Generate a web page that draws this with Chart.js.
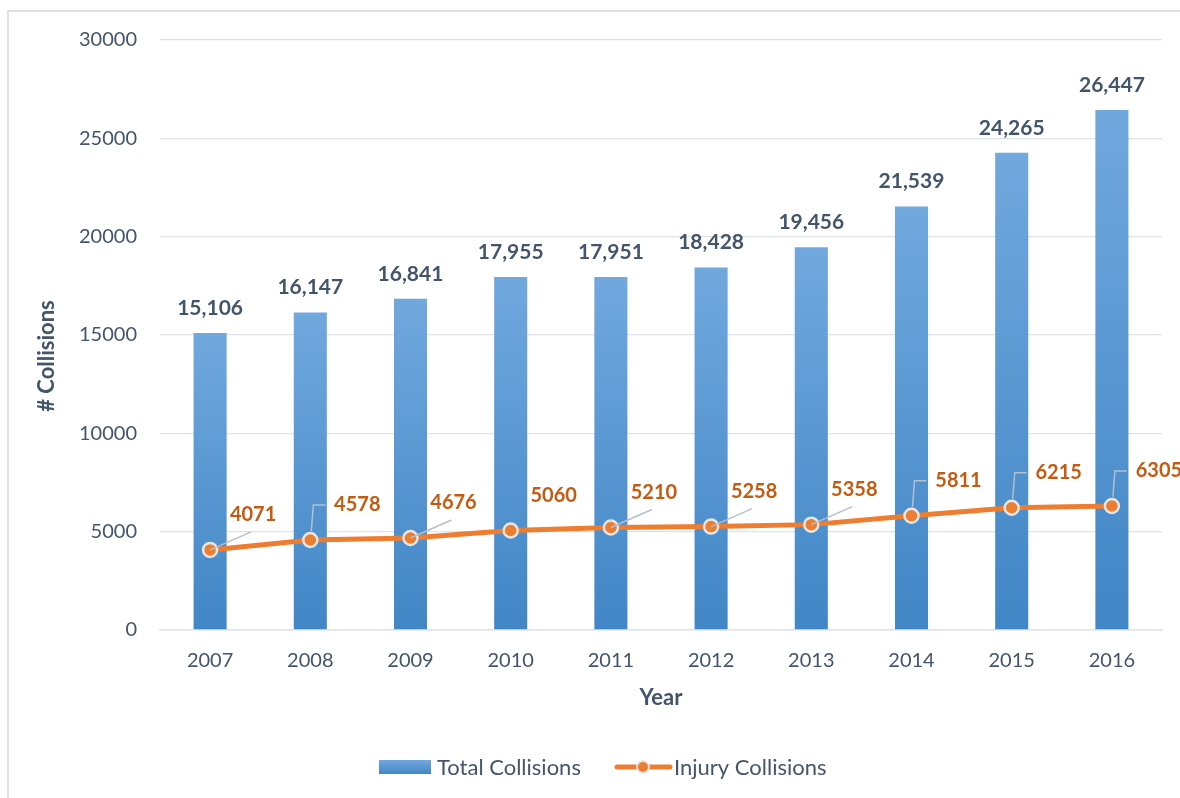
<!DOCTYPE html>
<html>
<head>
<meta charset="utf-8">
<script src="https://cdn.jsdelivr.net/npm/chart.js@4.4.1/dist/chart.umd.min.js"></script>
<style>
  html, body { margin: 0; padding: 0; background: #ffffff; }
  #wrap { position: relative; width: 1180px; height: 798px; }
</style>
</head>
<body>
<div id="wrap"><canvas id="chart"></canvas></div>
<script>
// Collisions per year
const years = ['2007', '2008', '2009', '2010', '2011', '2012', '2013', '2014', '2015', '2016'];
const totalCollisions = [15106, 16147, 16841, 17955, 17951, 18428, 19456, 21539, 24265, 26447];
const injuryCollisions = [4071, 4578, 4676, 5060, 5210, 5258, 5358, 5811, 6215, 6305];
const yAxisMax = 30000;
const yAxisStep = 5000;
const yAxisTitle = '# Collisions';

const FONT = 'Lato, "Open Sans", sans-serif';
const TEXT_COLOR = '#44546A';
const ORANGE = '#ED7D31';
const ORANGE_TEXT = '#C55A11';
const BAR_TOP = '#71a8de';
const BAR_BOTTOM = '#4186c6';
const GRID = '#dfe3e8';

// Leader style for each injury label: diagonal, elbow or none
const leaderStyles = ['diag', 'elbow', 'diag', 'none', 'diag', 'diag', 'diag', 'elbow', 'elbow', 'elbow'];

function barGradient(ctx) {
  const chart = ctx.chart;
  if (!chart.chartArea || ctx.type !== 'data') return BAR_BOTTOM;
  const y = chart.scales.y;
  const top = y.getPixelForValue(ctx.raw);
  const base = y.getPixelForValue(0);
  const g = chart.ctx.createLinearGradient(0, top, 0, base);
  g.addColorStop(0, BAR_TOP);
  g.addColorStop(1, BAR_BOTTOM);
  return g;
}

// Frame around the whole figure
const frame = {
  id: 'frame',
  beforeDraw(chart) {
    const c = chart.ctx;
    c.save();
    c.fillStyle = '#ffffff';
    c.fillRect(0, 0, chart.width, chart.height);
    c.strokeStyle = '#dde1e6';
    c.lineWidth = 2;
    c.strokeRect(8, 11, chart.width + 20, chart.height + 20);
    c.restore();
  }
};

// Vertical axis title, set a little below the plot's middle
const yTitle = {
  id: 'yTitle',
  afterDraw(chart) {
    const c = chart.ctx;
    const area = chart.chartArea;
    c.save();
    c.translate(47, (area.top + area.bottom) / 2 + 21);
    c.rotate(-Math.PI / 2);
    c.font = 'bold 22px ' + FONT;
    c.fillStyle = TEXT_COLOR;
    c.textAlign = 'center';
    c.textBaseline = 'middle';
    c.fillText(yAxisTitle, 0, 0);
    c.restore();
  }
};

// Value labels above bars and beside line points
const valueLabels = {
  id: 'valueLabels',
  afterDatasetsDraw(chart) {
    const c = chart.ctx;
    const bars = chart.getDatasetMeta(0).data;
    const barValues = chart.data.datasets[0].data;
    c.save();
    c.font = 'bold 21px ' + FONT;
    c.fillStyle = TEXT_COLOR;
    c.textAlign = 'center';
    c.textBaseline = 'middle';
    bars.forEach((bar, i) => {
      c.fillText(barValues[i].toLocaleString('en-US'), bar.x, bar.y - 25);
    });

    const pts = chart.getDatasetMeta(1).data;
    const lineValues = chart.data.datasets[1].data;
    c.strokeStyle = '#b4bfcd';
    c.lineWidth = 1.5;
    pts.forEach((pt, i) => {
      const style = leaderStyles[i];
      let lx = pt.x + 43;
      const ly = pt.y - 35;
      if (style === 'diag') {
        c.beginPath();
        c.moveTo(pt.x, pt.y);
        c.lineTo(pt.x + 41, pt.y - 18);
        c.stroke();
      } else if (style === 'elbow') {
        lx = pt.x + 47;
        c.beginPath();
        c.moveTo(pt.x + 1, pt.y - 9);
        c.lineTo(pt.x + 3, ly);
        c.lineTo(pt.x + 15, ly);
        c.stroke();
      }
      c.font = 'bold 20px ' + FONT;
      c.fillStyle = ORANGE_TEXT;
      c.fillText(String(lineValues[i]), lx, ly);
    });
    c.restore();
  }
};

// Legend drawn under the chart
const bottomLegend = {
  id: 'bottomLegend',
  afterDraw(chart) {
    const c = chart.ctx;
    const ds = chart.data.datasets;
    const cy = 767;
    c.save();
    c.font = '22px ' + FONT;
    c.textBaseline = 'middle';
    c.textAlign = 'left';
    // bar swatch
    let x = 379;
    const g = c.createLinearGradient(0, cy - 7, 0, cy + 7);
    g.addColorStop(0, BAR_TOP);
    g.addColorStop(1, BAR_BOTTOM);
    c.fillStyle = g;
    c.fillRect(x, cy - 7, 52, 14);
    c.fillStyle = TEXT_COLOR;
    c.fillText(ds[0].label, x + 58, cy + 1);
    // line swatch
    x = 615;
    c.strokeStyle = ORANGE;
    c.lineWidth = 5;
    c.lineCap = 'round';
    c.beginPath();
    c.moveTo(x + 2, cy);
    c.lineTo(x + 55, cy);
    c.stroke();
    c.beginPath();
    c.arc(x + 28, cy, 6, 0, Math.PI * 2);
    c.fillStyle = ORANGE;
    c.fill();
    c.lineWidth = 2;
    c.strokeStyle = '#e6e6e6';
    c.stroke();
    c.fillStyle = TEXT_COLOR;
    c.fillText(ds[1].label, x + 59, cy + 1);
    c.restore();
  }
};

new Chart(document.getElementById('chart'), {
  type: 'bar',
  data: {
    labels: years,
    datasets: [
      {
        type: 'bar',
        label: 'Total Collisions',
        data: totalCollisions,
        backgroundColor: barGradient,
        borderWidth: 0,
        barPercentage: 0.33,
        categoryPercentage: 1.0,
        order: 2
      },
      {
        type: 'line',
        label: 'Injury Collisions',
        data: injuryCollisions,
        borderColor: ORANGE,
        borderWidth: 5,
        backgroundColor: ORANGE,
        pointRadius: 7,
        pointBackgroundColor: ORANGE,
        pointBorderColor: '#e6e6e6',
        pointBorderWidth: 2.5,
        tension: 0,
        order: 1
      }
    ]
  },
  options: {
    responsive: true,
    maintainAspectRatio: false,
    animation: false,
    layout: { padding: { left: 35, top: 40, right: 18, bottom: 87 } },
    plugins: {
      legend: { display: false },
      tooltip: { enabled: false }
    },
    scales: {
      x: {
        grid: { display: false, drawTicks: false },
        border: { display: true, color: GRID, width: 1.5 },
        ticks: { font: { family: FONT, size: 20 }, color: TEXT_COLOR, padding: 19 },
        title: {
          display: true, text: 'Year',
          font: { family: FONT, size: 22, weight: 'bold' }, color: TEXT_COLOR,
          padding: { top: 0, bottom: 0 }
        },
        afterFit(scale) { scale.height = 81; }
      },
      y: {
        min: 0,
        max: yAxisMax,
        grid: { color: GRID, lineWidth: 1.3, drawTicks: false },
        border: { display: false },
        ticks: {
          stepSize: yAxisStep,
          font: { family: FONT, size: 20 }, color: TEXT_COLOR, padding: 23,
          callback: (v) => String(v)
        },
        title: { display: false },
        afterFit(scale) { scale.width = 125; }
      }
    }
  },
  plugins: [frame, yTitle, valueLabels, bottomLegend]
});
</script>
</body>
</html>
